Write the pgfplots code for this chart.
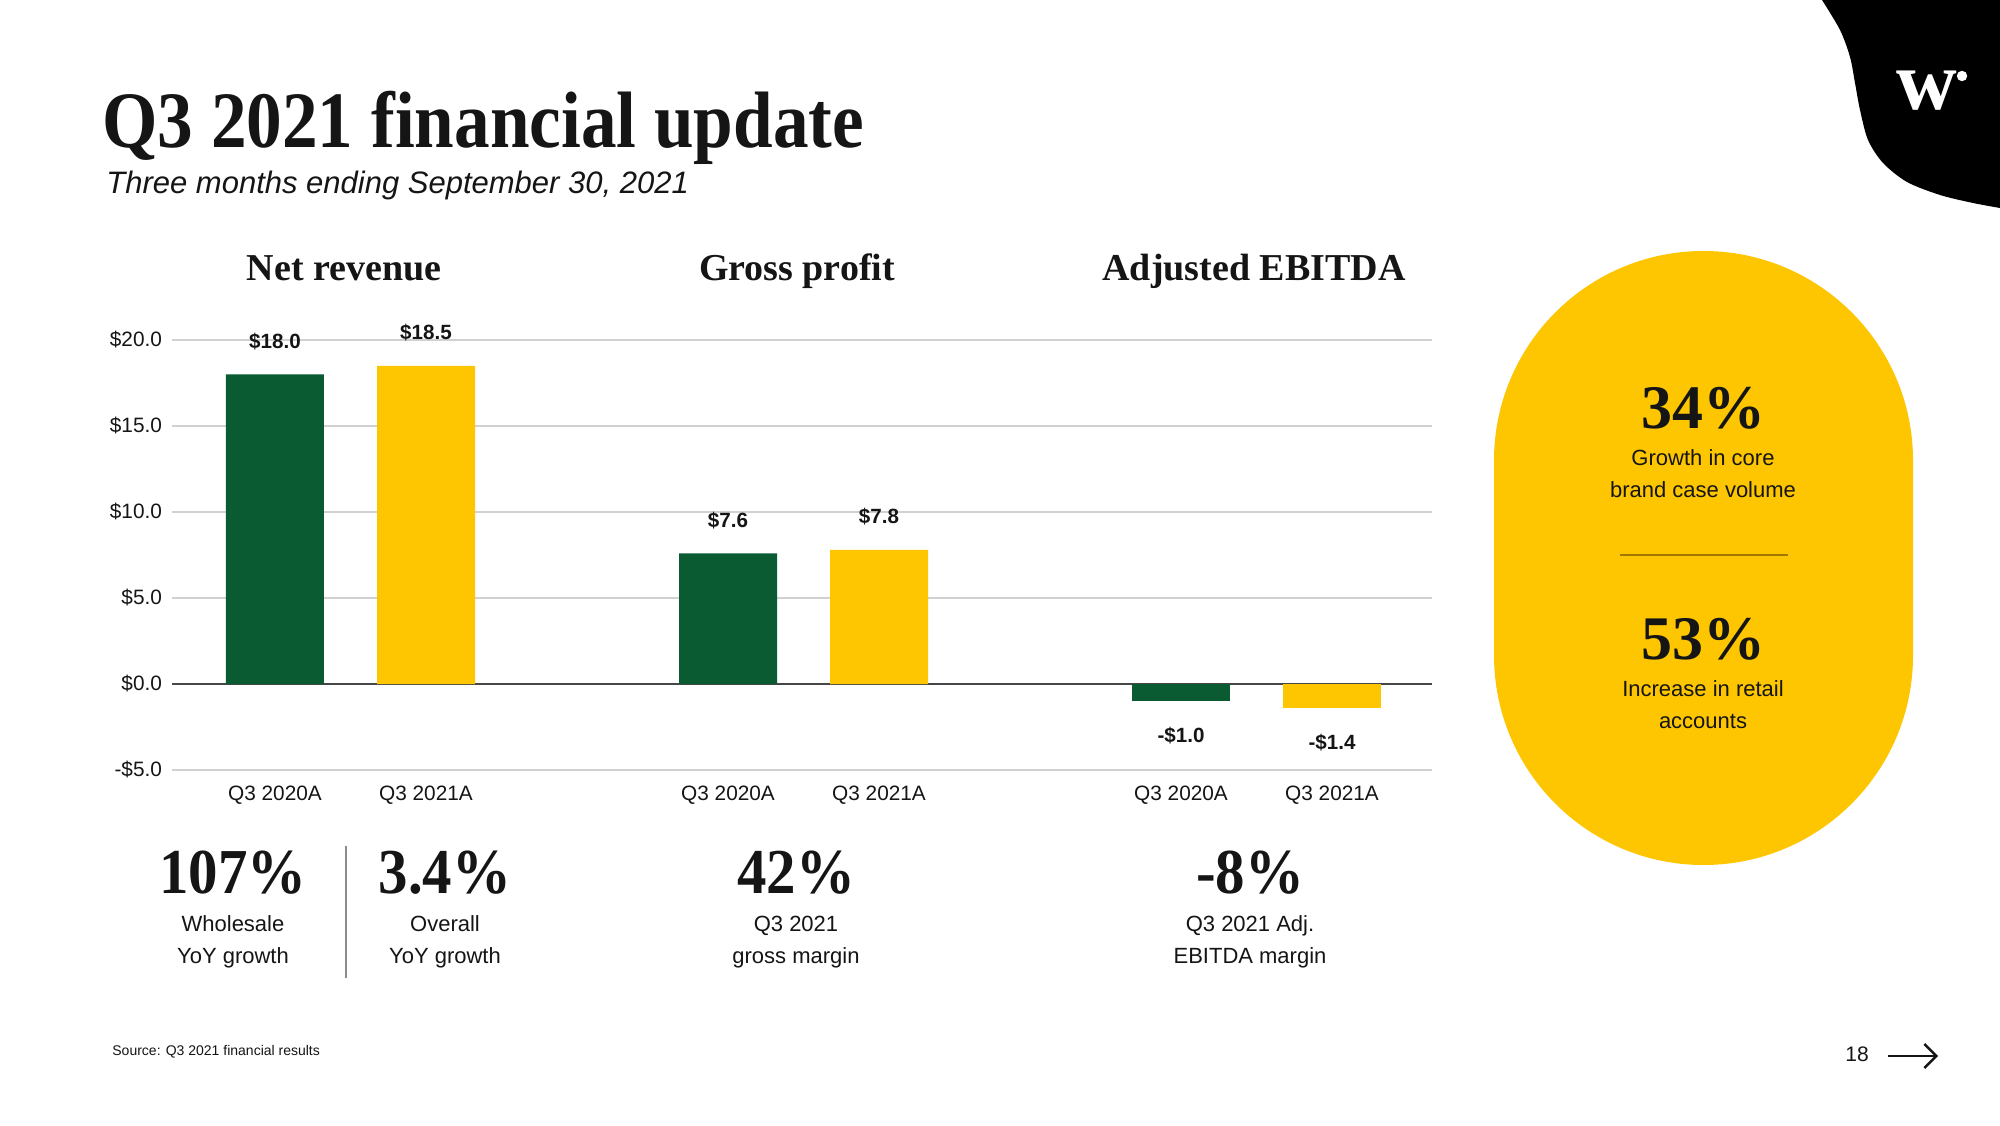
\documentclass[border=0pt]{standalone}
\usepackage{pgfplots}
\pgfplotsset{compat=1.18}
\usepackage{fontspec}
\usetikzlibrary{arrows.meta}
\setmainfont{Liberation Sans}
\newfontfamily\serifb{Liberation Serif}[FakeStretch=0.89]
\newfontfamily\serifk{Liberation Serif}[FakeStretch=0.92]
\newfontfamily\serift{Liberation Serif}
\definecolor{wgreen}{HTML}{0A5A32}
\definecolor{wyellow}{HTML}{FDC600}
\definecolor{ink}{HTML}{151515}
\definecolor{sepbrown}{HTML}{A07800}
\begin{document}
\begin{tikzpicture}[x=0.5pt,y=0.5pt]
\path[fill=white] (0,0) rectangle (2000,1125);
% top-right blob
\fill[black] plot[smooth] coordinates {(1822,1125) (1840,1095) (1850,1068) (1855,1042) (1860,1015) (1868,985) (1883,962) (1907,943) (1940,930) (1973,922) (2000,917)} -- (2000,1125) -- cycle;
\node[white, font=\serift\bfseries\fontsize{42}{42}\selectfont, inner sep=0] at (1927,1034) {w};
\fill[white] (1962,1049) circle[radius=2.6pt];
% titles
\node[anchor=base west, font=\serifb\bfseries\fontsize{40}{40}\selectfont, text=ink, inner sep=0] at (102,977) {Q3 2021 financial update};
\node[anchor=base west, font=\itshape\fontsize{15.5}{18}\selectfont, text=ink, inner sep=0] at (106,931) {Three months ending September 30, 2021};
\node[anchor=base, font=\serift\bfseries\fontsize{19}{22}\selectfont, text=ink, inner sep=0] at (344,844) {Net revenue};
\node[anchor=base, font=\serift\bfseries\fontsize{19}{22}\selectfont, text=ink, inner sep=0] at (797,844) {Gross profit};
\node[anchor=base, font=\serift\bfseries\fontsize{19}{22}\selectfont, text=ink, inner sep=0] at (1254,844) {Adjusted EBITDA};
% chart
\begin{axis}[
  at={(86pt,177.5pt)}, anchor=south west,
  scale only axis, width=630pt, height=215pt,
  xmin=-0.682, xmax=7.662, ymin=-5, ymax=20,
  axis line style={draw=none}, tick style={draw=none},
  ytick={-5,5,10,15,20},
  yticklabels={-\$5.0,\$5.0,\$10.0,\$15.0,\$20.0},
  extra y ticks={0}, extra y tick labels={\$0.0},
  extra y tick style={major grid style={color=black!72, line width=0.8pt}},
  xtick={0,1,3,4,6,7},
  xticklabels={Q3 2020A,Q3 2021A,Q3 2020A,Q3 2021A,Q3 2020A,Q3 2021A},
  ymajorgrids, major grid style={color=black!18, line width=0.7pt},
  tick label style={font=\fontsize{10.4}{12}\selectfont, text=ink},
  xticklabel style={yshift=-4.3pt},
  yticklabel style={xshift=-1.5pt},
  clip=false,
  nodes near coords, point meta=explicit symbolic,
  every node near coord/.append style={font=\bfseries\fontsize{10.3}{12}\selectfont, text=ink, inner ysep=12pt},
]
\addplot[ybar, bar width=49pt, bar shift=0pt, fill=wgreen, draw=none] coordinates {(0,18.0) [\$18.0] (3,7.6) [\$7.6]};
\addplot[ybar, bar width=49pt, bar shift=0pt, fill=wyellow, draw=none] coordinates {(1,18.5) [\$18.5] (4,7.8) [\$7.8]};
\addplot[ybar, bar width=49pt, bar shift=0pt, fill=wgreen, draw=none, every node near coord/.append style={anchor=north, inner ysep=13pt}] coordinates {(6,-1.0) [-\$1.0]};
\addplot[ybar, bar width=49pt, bar shift=0pt, fill=wyellow, draw=none, every node near coord/.append style={anchor=north, inner ysep=13pt}] coordinates {(7,-1.4) [-\$1.4]};
\end{axis}
% KPIs
\foreach \xx/\tt in {233/107\%, 445/3.4\%, 796/42\%, 1250/-8\%}{
  \node[anchor=base, font=\serifk\bfseries\fontsize{32}{34}\selectfont, text=ink, inner sep=0] at (\xx,232) {\tt};
}
\node[align=center, font=\fontsize{11}{16}\selectfont, text=ink] at (233,183) {Wholesale\\YoY growth};
\node[align=center, font=\fontsize{11}{16}\selectfont, text=ink] at (445,183) {Overall\\YoY growth};
\node[align=center, font=\fontsize{11}{16}\selectfont, text=ink] at (796,183) {Q3 2021\\gross margin};
\node[align=center, font=\fontsize{11}{16}\selectfont, text=ink] at (1250,183) {Q3 2021 Adj.\\EBITDA margin};
\draw[black!45, line width=0.6pt] (346,279) -- (346,147);
% stadium
\fill[wyellow] (1494,469.5) -- (1494,664.5) arc[start angle=180,end angle=0,radius=104.75pt] -- (1913,469.5) arc[start angle=0,end angle=-180,radius=104.75pt] -- cycle;
\draw[sepbrown, line width=0.6pt] (1620,570) -- (1788,570);
\node[anchor=base, font=\serift\bfseries\fontsize{31}{34}\selectfont, text=ink, inner sep=0] at (1703,696) {34\%};
\node[align=center, font=\fontsize{11}{16}\selectfont, text=ink] at (1703,651) {Growth in core\\brand case volume};
\node[anchor=base, font=\serift\bfseries\fontsize{31}{34}\selectfont, text=ink, inner sep=0] at (1703,466) {53\%};
\node[align=center, font=\fontsize{11}{16}\selectfont, text=ink] at (1703,420) {Increase in retail\\accounts};
% footer
\node[anchor=base west, font=\fontsize{7}{8}\selectfont, text=ink, inner sep=0] at (112,70) {Source: Q3 2021 financial results};
\node[font=\fontsize{10.5}{12}\selectfont, text=ink] at (1857,71) {18};
\draw[-{Straight Barb[length=6pt,width=12pt]}, line width=1.2pt, ink] (1888,69) -- (1938,69);
\end{tikzpicture}
\end{document}
